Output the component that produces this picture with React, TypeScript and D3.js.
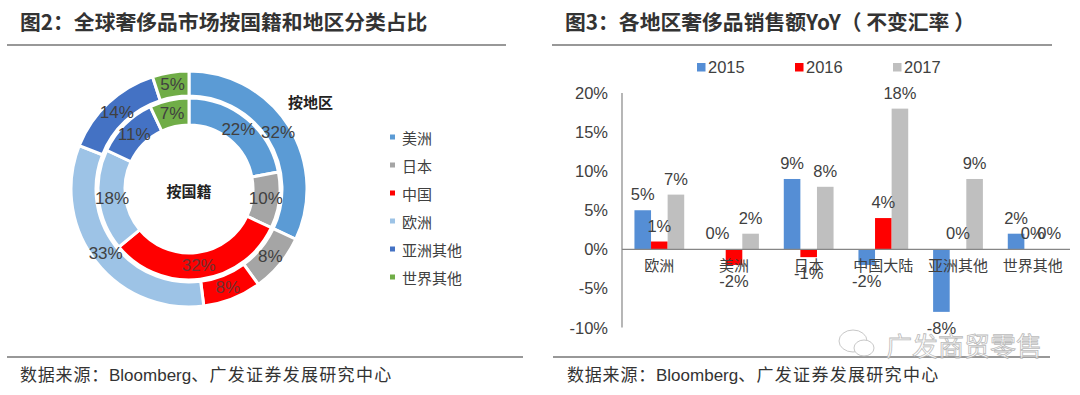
//@ts-nocheck
import * as d3 from 'd3';

// ---- donut data (left chart) ----
const regions = ['美洲', '日本', '中国', '欧洲', '亚洲其他', '世界其他'];
const regionColors = ['#5B9BD5', '#A5A5A5', '#FF0000', '#9DC3E6', '#4472C4', '#70AD47'];
const byNationality = [22, 10, 32, 18, 11, 7]; // inner ring 按国籍
const byRegion = [32, 8, 8, 33, 14, 5]; // outer ring 按地区

// ---- bar data (right chart) ----
const categories = ['欧洲', '美洲', '日本', '中国大陆', '亚洲其他', '世界其他'];
const years = ['2015', '2016', '2017'];
const yearColors = ['#558ED5', '#FF0000', '#BFBFBF'];
const yoy2015 = [5, 0, 9, -2, -8, 2];
const yoy2016 = [1, -2, -1, 4, 0, 0];
const yoy2017 = [7, 2, 8, 18, 9, 0];
const yTicks = [20, 15, 10, 5, 0, -5, -10];

const CJK = '"Noto Sans CJK SC", sans-serif';
const LATIN = '"Liberation Sans", Arial, sans-serif';

export default function App() {
  const W = 1080;
  const H = 395;

  // donut
  const cx = 189;
  const cy = 189;
  const pie = d3.pie<number>().sort(null).value((d) => d);
  const innerArc = d3.arc().innerRadius(64).outerRadius(91);
  const outerArc = d3.arc().innerRadius(93).outerRadius(118);
  const innerSlices = pie(byNationality);
  const outerSlices = pie(byRegion);

  // bars
  const x0 = d3.scaleBand().domain(categories).range([622, 1070]);
  const x1 = d3.scaleBand().domain(years).range([0, x0.bandwidth()]).paddingOuter(0.75);
  const y = d3.scaleLinear().domain([-10, 20]).range([327.5, 93]);
  const series = [yoy2015, yoy2016, yoy2017];

  const pct = (v) => `${v}%`;

  const source = (xPos) => (
    <text x={xPos} y={381} fontFamily={CJK} fontSize={17} fill="#333">
      <tspan letterSpacing={0.8}>数据来源：</tspan>
      <tspan fontFamily={LATIN}>Bloomberg</tspan>
      <tspan letterSpacing={1.3}>、广发证券发展研究中心</tspan>
    </text>
  );

  return (
    <svg width={W} height={H} style={{ position: 'absolute', left: 0, top: 0, background: '#fff' }}>
      {/* titles */}
      <text x={20} y={30} fontFamily={CJK} fontWeight={700} fontSize={20.8} fill="#333">
        图2：全球奢侈品市场按国籍和地区分类占比
      </text>
      <line x1={7} x2={506} y1={45} y2={45} stroke="#333" strokeWidth={1.2} />
      <text x={565} y={30} fontFamily={CJK} fontWeight={700} fontSize={20.8} fill="#333">
        图3：各地区奢侈品销售额YoY（ 不变汇率 ）
      </text>
      <line x1={552} x2={1052} y1={45} y2={45} stroke="#333" strokeWidth={1.2} />

      {/* donut */}
      <g transform={`translate(${cx},${cy})`}>
        {outerSlices.map((s, i) => (
          <path key={'o' + i} d={outerArc(s)} fill={regionColors[i]} stroke="#fff" strokeWidth={3} />
        ))}
        {innerSlices.map((s, i) => (
          <path key={'i' + i} d={innerArc(s)} fill={regionColors[i]} stroke="#fff" strokeWidth={3} />
        ))}
        {outerSlices.map((s, i) => {
          const [lx, ly] = outerArc.centroid(s);
          return (
            <text key={'ol' + i} x={lx} y={ly} textAnchor="middle" dominantBaseline="central"
              fontFamily={LATIN} fontSize={17} fill="#404040" opacity={i === 2 ? 0.75 : 1}>
              {pct(byRegion[i])}
            </text>
          );
        })}
        {innerSlices.map((s, i) => {
          const [lx, ly] = innerArc.centroid(s);
          return (
            <text key={'il' + i} x={lx} y={ly} textAnchor="middle" dominantBaseline="central"
              fontFamily={LATIN} fontSize={17} fill="#404040" opacity={i === 2 ? 0.75 : 1}>
              {pct(byNationality[i])}
            </text>
          );
        })}
        <text x={0} y={8} textAnchor="middle" fontFamily={CJK} fontWeight={700} fontSize={15} fill="#222">
          按国籍
        </text>
      </g>
      <text x={288} y={108} fontFamily={CJK} fontWeight={700} fontSize={15} fill="#222">
        按地区
      </text>

      {/* donut legend */}
      {regions.map((r, i) => (
        <g key={r} transform={`translate(390,${137 + i * 28})`}>
          <rect x={0} y={-2.5} width={5} height={5} fill={regionColors[i]} />
          <text x={12} y={0} dominantBaseline="central" fontFamily={CJK} fontSize={15} fill="#404040">
            {r}
          </text>
        </g>
      ))}

      {/* bar legend */}
      {years.map((yr, i) => (
        <g key={yr} transform={`translate(${697 + i * 98},67)`}>
          <rect x={0} y={-4} width={8.5} height={8.5} fill={yearColors[i]} />
          <text x={11} y={0} dominantBaseline="central" fontFamily={LATIN} fontSize={16.5} fill="#404040">
            {yr}
          </text>
        </g>
      ))}

      {/* y axis */}
      {yTicks.map((t) => (
        <text key={t} x={608} y={y(t)} textAnchor="end" dominantBaseline="central"
          fontFamily={LATIN} fontSize={16.5} fill="#404040">
          {pct(t)}
        </text>
      ))}
      <line x1={622} x2={622} y1={y(20)} y2={y(-10)} stroke="#868686" strokeWidth={1.2} />

      {/* bars */}
      {categories.map((c, ci) => (
        <g key={c} transform={`translate(${x0(c)},0)`}>
          {series.map((vals, si) => {
            const v = vals[ci];
            const bx = x1(years[si]);
            return (
              <rect key={si} x={bx} width={x1.bandwidth()} y={y(Math.max(0, v))}
                height={Math.abs(y(v) - y(0))} fill={yearColors[si]} />
            );
          })}
        </g>
      ))}
      <line x1={622} x2={1070} y1={y(0)} y2={y(0)} stroke="#868686" strokeWidth={1.2} />

      {/* category labels */}
      {categories.map((c) => (
        <text key={c} x={x0(c) + x0.bandwidth() / 2} y={y(0) + 22} textAnchor="middle"
          fontFamily={CJK} fontSize={15} fill="#404040">
          {c}
        </text>
      ))}

      {/* value labels */}
      {categories.map((c, ci) =>
        series.map((vals, si) => {
          const v = vals[ci];
          const lx = x0(c) + x1(years[si]) + x1.bandwidth() / 2;
          const ly = v < 0 ? y(v) + 22 : y(v) - 10;
          return (
            <text key={c + si} x={lx} y={ly} textAnchor="middle" fontFamily={LATIN} fontSize={16.5} fill="#404040">
              {pct(v)}
            </text>
          );
        })
      )}

      {/* bottom rules and sources */}
      <line x1={7} x2={523} y1={357} y2={357} stroke="#333" strokeWidth={1.2} />
      <line x1={553} x2={1050} y1={357} y2={357} stroke="#333" strokeWidth={1.2} />
      {source(20)}
      {source(567)}

      {/* watermark */}
      <g opacity={0.8}>
        <ellipse cx={853} cy={341} rx={14} ry={11} fill="#fff" stroke="#bbb" strokeWidth={1} />
        <ellipse cx={864} cy={348} rx={10} ry={8} fill="#fff" stroke="#bbb" strokeWidth={1} />
        <text x={886} y={356} fontFamily={CJK} fontSize={26} fill="#fff" stroke="#aaa" strokeWidth={0.8}>
          广发商贸零售
        </text>
      </g>
    </svg>
  );
}
